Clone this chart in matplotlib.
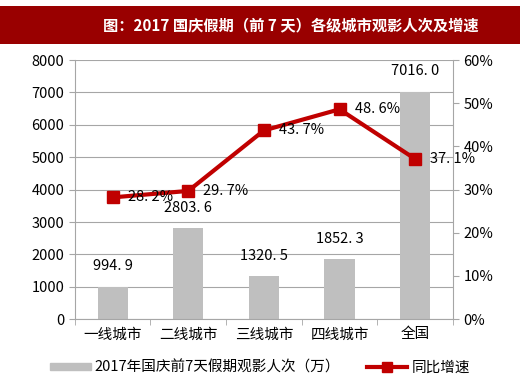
import matplotlib.pyplot as plt
from matplotlib.lines import Line2D
from matplotlib.patches import Patch, Rectangle
from matplotlib.ticker import FuncFormatter

plt.rcParams["font.family"] = ["Noto Sans CJK SC", "DejaVu Sans"]

categories = ["一线城市", "二线城市", "三线城市", "四线城市", "全国"]
audience = [994.9, 2803.6, 1320.5, 1852.3, 7016.0]
growth = [28.2, 29.7, 43.7, 48.6, 37.1]

GREY_BAR = "#BFBFBF"
RED = "#C00000"
BANNER = "#990000"

fig = plt.figure(figsize=(5.2, 3.85), dpi=100)
fig.patches.append(Rectangle((0, 0.886), 1, 0.098, transform=fig.transFigure,
                             facecolor=BANNER, edgecolor="none", zorder=0))
fig.text(0.56, 0.935, "图：2017 国庆假期（前 7 天）各级城市观影人次及增速",
         color="white", fontsize=11, fontweight="bold", ha="center", va="center")

ax = fig.add_axes([0.144, 0.171, 0.727, 0.673])
x = range(len(categories))
ax.bar(x, audience, width=0.4, color=GREY_BAR, zorder=2)
ax.set_ylim(0, 8000)
ax.set_xlim(-0.5, len(categories) - 0.5)
ax.set_yticks(range(0, 8001, 1000))
ax.yaxis.grid(True, color="#A6A6A6", linewidth=0.8, zorder=0)
ax.set_axisbelow(True)
for s in ["top", "right"]:
    ax.spines[s].set_visible(False)
for s in ["left", "bottom"]:
    ax.spines[s].set_color("#A6A6A6")
ax.set_xticks([i - 0.5 for i in range(len(categories) + 1)], minor=True)
ax.set_xticks(list(x))
ax.set_xticklabels(categories, fontsize=10.5)
ax.tick_params(axis="x", which="major", length=0, pad=6)
ax.tick_params(axis="x", which="minor", length=4, color="#A6A6A6")
ax.tick_params(axis="y", length=4, color="#A6A6A6", labelsize=10.5)
for i, v in enumerate(audience):
    ax.text(i, v + 420, f"{v:.1f}".replace(".", ". "), ha="center", va="bottom",
            fontsize=10.5)

ax2 = ax.twinx()
ax2.plot(x, growth, color=RED, linewidth=3, marker="s", markersize=9, zorder=3)
ax2.set_ylim(0, 60)
ax2.set_yticks(range(0, 61, 10))
ax2.yaxis.set_major_formatter(FuncFormatter(lambda v, p: f"{v:.0f}%"))
for s in ["top", "left", "bottom"]:
    ax2.spines[s].set_visible(False)
ax2.spines["right"].set_color("#A6A6A6")
ax2.tick_params(axis="y", length=4, color="#A6A6A6", labelsize=10.5)
for i, v in enumerate(growth):
    ax2.text(i + 0.2, v, f"{v:.1f}%".replace(".", ". "), ha="left", va="center",
             fontsize=10.5)

handles = [Patch(color=GREY_BAR), Line2D([], [], color=RED, linewidth=3,
                                          marker="s", markersize=7)]
labels = ["2017年国庆前7天假期观影人次（万）", "同比增速"]
fig.legend(handles, labels, loc="center", bbox_to_anchor=(0.5, 0.045), ncol=2,
           frameon=False, fontsize=10.5, handlelength=2.8, handleheight=0.4,
           columnspacing=1.8, handletextpad=0.3)

fig.savefig("out.png", dpi=100)
